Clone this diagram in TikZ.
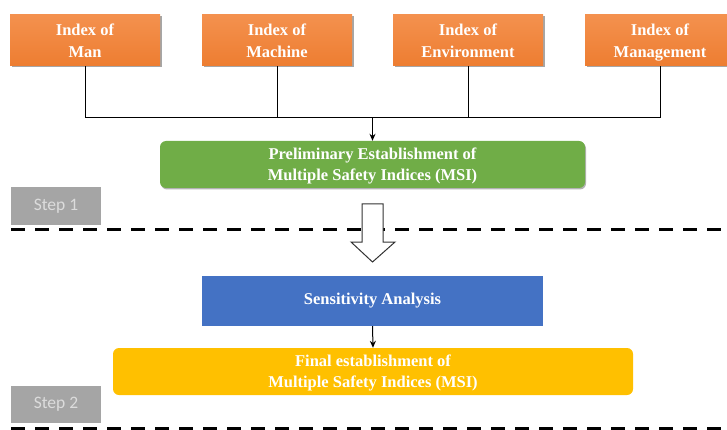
\documentclass[tikz,border=0pt]{standalone}
\usepackage{fontspec}
\setmainfont{Liberation Serif}
\newfontfamily\stepfont{Carlito}
\usetikzlibrary{arrows.meta,shadows}
\definecolor{orangebox}{HTML}{ED7D31}
\definecolor{orangetop}{HTML}{F4914E}
\definecolor{greenbox}{HTML}{70AD47}
\definecolor{bluebox}{HTML}{4472C4}
\definecolor{yellowbox}{HTML}{FFC000}
\definecolor{graybox}{HTML}{A5A5A5}
\definecolor{steptext}{HTML}{DCDCDC}
\tikzset{
  idxbox/.style={rectangle, top color=orangetop, bottom color=orangebox, draw=none,
    minimum width=150pt, minimum height=51pt, inner sep=0pt, align=center,
    text depth=0pt,
    text=white, font=\fontsize{16.5}{22}\selectfont\bfseries,
    drop shadow={shadow xshift=1.5pt, shadow yshift=-1.5pt, opacity=0.35, fill=black}},
  mainbox/.style={rectangle, draw=none, inner sep=0pt, align=center,
    text=white, font=\fontsize{16.5}{21}\selectfont\bfseries},
  stepbox/.style={rectangle, fill=graybox, draw=none, minimum width=90pt,
    inner sep=0pt, text=steptext, font=\stepfont\fontsize{17.5}{20}\selectfont},
  link/.style={draw=black, line width=1pt},
  sep/.style={draw=black, line width=3pt, dash pattern=on 14pt off 10pt},
}
\begin{document}
\begin{tikzpicture}[x=1pt,y=-1pt]
\useasboundingbox (0,0) rectangle (727,430);
% index boxes
\node[idxbox] (man) at (85,40.5) {Index of\\Man};
\node[idxbox] (mach) at (277,40.5) {Index of\\Machine};
\node[idxbox] (env) at (468,40.5) {Index of\\Environment};
\node[idxbox] (mgmt) at (660,40.5) {Index of\\Management};
% main boxes
\node[mainbox, fill=greenbox, rounded corners=6pt, minimum width=425pt, minimum height=47pt,
  text depth=0pt,
  drop shadow={shadow xshift=1pt, shadow yshift=-1.5pt, opacity=0.3, fill=black}] (pre) at (372.5,164.5)
  {Preliminary Establishment of\\Multiple Safety Indices (MSI)};
\node[mainbox, fill=bluebox, minimum width=341pt, minimum height=50pt] (sens) at (372.5,301)
  {Sensitivity Analysis};
\node[mainbox, fill=yellowbox, rounded corners=6pt, minimum width=520pt, minimum height=47pt,
  text depth=0pt] (fin) at (373,371.5)
  {Final establishment of\\Multiple Safety Indices (MSI)};
% step labels
\node[stepbox, minimum height=38pt] (s1) at (56,206) {Step 1};
\node[stepbox, minimum height=37pt] (s2) at (56,404.5) {Step 2};
% connectors
\coordinate (j) at (372.5,118);
\draw[link] (man.south) -- (man.south |- j) -- (mgmt.south |- j) -- (mgmt.south);
\draw[link] (mach.south) -- (mach.south |- j);
\draw[link] (env.south) -- (env.south |- j);
\draw[link, -{Stealth[length=7pt,width=6pt]}] (j) -- (pre.north);
\draw[link, -{Stealth[length=7pt,width=6pt]}] (sens.south) -- (fin.north);
% separators
\coordinate (d1a) at (11,229);
\coordinate (d1b) at (727,229);
\coordinate (d2a) at (11,428);
\coordinate (d2b) at (727,428);
\draw[sep] (d1a) -- (d1b);
\draw[sep] (d2a) -- (d2b);
% hollow arrow
\draw[fill=white, draw=black!80, line width=1pt]
  (362,204) -- (383,204) -- (383,242) -- (395,242) -- (372.5,262) -- (351,242) -- (362,242) -- cycle;
\end{tikzpicture}
\end{document}
